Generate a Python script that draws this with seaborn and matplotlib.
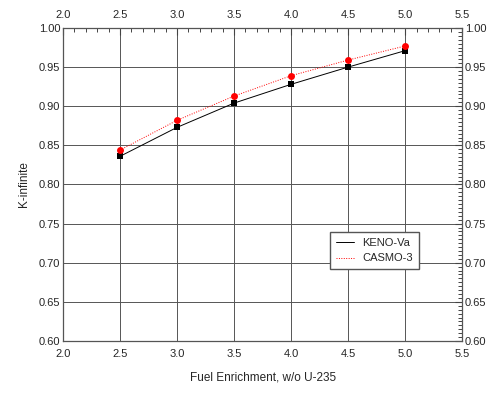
import pandas as pd
import numpy as np
import matplotlib
matplotlib.use('Agg')
import matplotlib.pyplot as plt
from matplotlib.ticker import MultipleLocator
import seaborn as sns

# values
enrichment = [2.5, 3.0, 3.5, 4.0, 4.5, 5.0]
keno = [0.836, 0.873, 0.904, 0.928, 0.950, 0.971]
casmo = [0.844, 0.882, 0.913, 0.939, 0.959, 0.977]
x_ticks = [2.0, 2.5, 3.0, 3.5, 4.0, 4.5, 5.0, 5.5]
y_ticks = [0.60, 0.65, 0.70, 0.75, 0.80, 0.85, 0.90, 0.95, 1.00]

df = pd.DataFrame({
    'enrichment': enrichment * 2,
    'kinf': keno + casmo,
    'code': ['KENO-Va'] * len(keno) + ['CASMO-3'] * len(casmo),
})

sns.set_style('white')
plt.rcParams['font.family'] = ['Liberation Sans', 'DejaVu Sans']

fig = plt.figure(figsize=(4.98, 3.94), dpi=100)
ax = fig.gca()
fig.subplots_adjust(left=0.1265, right=0.928, top=0.929, bottom=0.1345)

sns.lineplot(data=df, x='enrichment', y='kinf', hue='code', style='code',
             palette={'KENO-Va': 'black', 'CASMO-3': 'red'},
             dashes={'KENO-Va': '', 'CASMO-3': (1, 1.5)},
             markers={'KENO-Va': 's', 'CASMO-3': 'o'},
             markersize=5, markeredgewidth=0, linewidth=0.7, ax=ax)

ax.set_xlim(2.0, 5.5)
ax.set_ylim(0.60, 1.00)
ax.set_xticks(x_ticks)
ax.set_yticks(y_ticks)
ax.set_xticklabels(['%.1f' % v for v in x_ticks])
ax.set_yticklabels(['%.2f' % v for v in y_ticks])
ax.xaxis.set_minor_locator(MultipleLocator(0.1))
ax.yaxis.set_minor_locator(MultipleLocator(0.005))
ax.tick_params(which='both', direction='in', top=True, right=True,
               labeltop=True, labelright=True, labelsize=8, color='#444444')
ax.tick_params(which='major', length=5, width=0.8)
ax.tick_params(axis='y', which='major', pad=2)
ax.tick_params(axis='x', which='major', pad=6)
ax.tick_params(which='minor', length=3, width=0.7)
ax.grid(True, which='major', color='#555555', linewidth=0.7)
for s in ax.spines.values():
    s.set_color('#555555')
    s.set_linewidth(0.9)

ax.set_xlabel('Fuel Enrichment, w/o U-235', fontsize=8.5, labelpad=9)
ax.set_ylabel('K-infinite', fontsize=8.5, labelpad=6)

handles, labels = ax.get_legend_handles_labels()
for h in handles:
    h.set_marker('')
ax.legend(handles, labels, loc='upper right', bbox_to_anchor=(0.905, 0.365),
          fontsize=8, frameon=True, fancybox=False, edgecolor='#555555',
          handlelength=1.6, borderpad=0.5, labelspacing=0.5, framealpha=1)

plt.savefig('out.png', dpi=100)
